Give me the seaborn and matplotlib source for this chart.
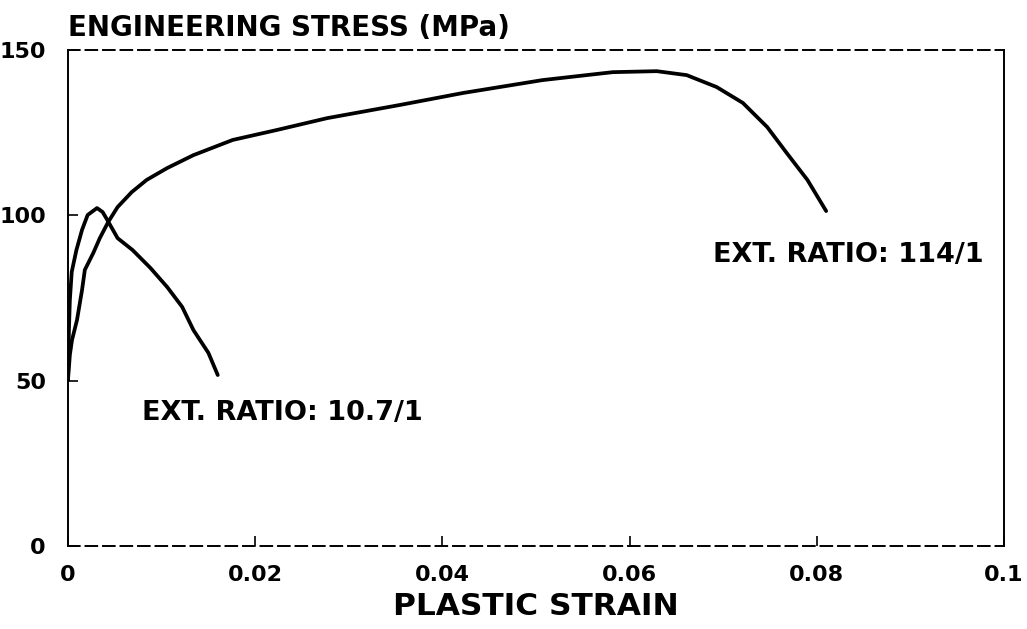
import matplotlib
matplotlib.use("Agg")
import matplotlib.pyplot as plt
import seaborn as sns
import pandas as pd

# stress-strain curves
strain_107 = [0.0, 0.0001, 0.0002, 0.0004, 0.0009, 0.0015, 0.0021, 0.0031, 0.0037,
              0.0042, 0.0053, 0.0069, 0.0088, 0.0106, 0.0122, 0.0134, 0.0150, 0.0160]
stress_107 = [50.2, 65.3, 74.4, 82.9, 89.5, 95.6, 100.1, 102.2, 101.0,
              98.6, 93.1, 89.5, 84.1, 78.3, 72.3, 65.3, 58.4, 51.7]

strain_114 = [0.0, 0.0002, 0.00043, 0.00096, 0.0015, 0.0018, 0.0027, 0.0034, 0.0043,
              0.0053, 0.0068, 0.0084, 0.0106, 0.0134, 0.0176, 0.0223, 0.0277, 0.0355,
              0.0422, 0.0507, 0.0582, 0.0629, 0.0661, 0.0693, 0.0721, 0.0747, 0.0768,
              0.0790, 0.0810]
stress_114 = [50.2, 57.8, 62.3, 68.3, 77.4, 83.5, 88.6, 93.1, 98.0,
              102.5, 107.0, 110.7, 114.3, 118.2, 122.8, 125.8, 129.4, 133.4,
              137.0, 140.9, 143.3, 143.6, 142.4, 138.8, 134.0, 126.7, 118.8,
              110.7, 101.3]

x_ticks = [0, 0.02, 0.04, 0.06, 0.08, 0.1]
x_tick_labels = ["0", "0.02", "0.04", "0.06", "0.08", "0.1"]
y_ticks = [0, 50, 100, 150]

df = pd.concat([
    pd.DataFrame({"strain": strain_107, "stress": stress_107, "ratio": "10.7/1"}),
    pd.DataFrame({"strain": strain_114, "stress": stress_114, "ratio": "114/1"}),
])

sns.set_style("white")
plt.rcParams['font.family'] = ['DejaVu Sans']
plt.rcParams['font.weight'] = 'bold'
plt.rcParams['text.color'] = 'black'
plt.rcParams['axes.labelcolor'] = 'black'

fig = plt.figure(figsize=(10.27, 6.29), dpi=100)
ax = fig.add_axes([0.0662, 0.132, 0.9114, 0.7885])

sns.lineplot(data=df, x="strain", y="stress", units="ratio", estimator=None,
             sort=False, color="black", linewidth=2.7, ax=ax)

ax.set_xlim(0, 0.1)
ax.set_ylim(0, 150)
ax.set_xticks(x_ticks)
ax.set_xticklabels(x_tick_labels)
ax.set_yticks(y_ticks)
ax.tick_params(direction="in", length=7, width=1.2, colors="black",
               labelsize=16, bottom=True, left=True)
ax.tick_params(axis="x", pad=14)
ax.tick_params(axis="y", pad=16)
for lbl in ax.get_xticklabels() + ax.get_yticklabels():
    lbl.set_fontweight("bold")

for side in ["top", "bottom"]:
    ax.spines[side].set_linestyle((0, (6, 3)))
for side in ax.spines:
    ax.spines[side].set_color("black")
    ax.spines[side].set_linewidth(1.4)

ax.set_xlabel("PLASTIC STRAIN", fontsize=22.5, fontweight="bold", labelpad=5)
ax.set_ylabel("")
ax.set_title("ENGINEERING STRESS (MPa)", loc="left", fontsize=20,
             fontweight="bold", pad=10)

ax.text(0.0079, 40.2, "EXT. RATIO: 10.7/1", fontsize=19.5, fontweight="bold",
        va="center", ha="left")
ax.text(0.0689, 88.0, "EXT. RATIO: 114/1", fontsize=19.5, fontweight="bold",
        va="center", ha="left")

plt.savefig("out.png", dpi=100)
